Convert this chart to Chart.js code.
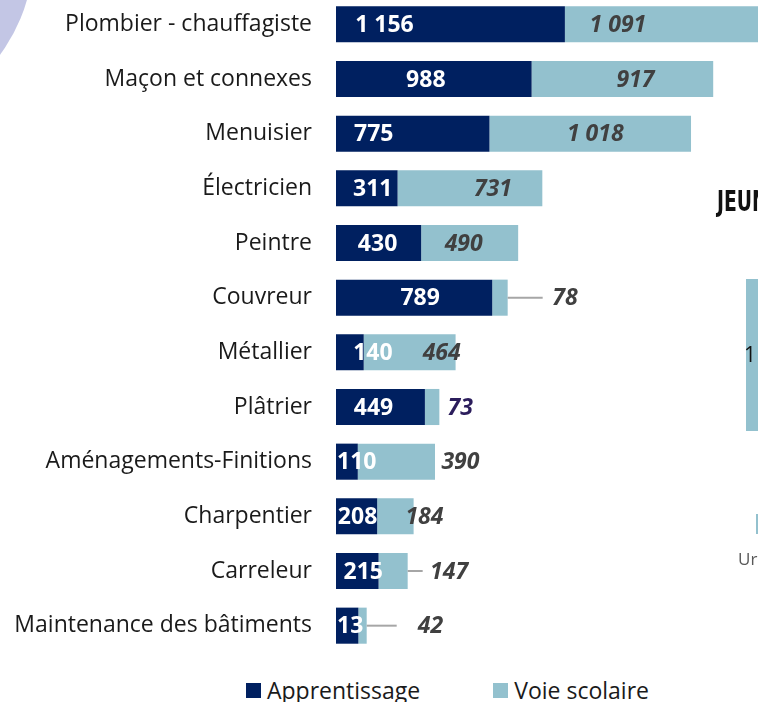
<!DOCTYPE html>
<html lang="fr">
<head>
<meta charset="utf-8">
<title>Apprentissage / Voie scolaire par métier</title>
<script src="https://cdn.jsdelivr.net/npm/chart.js@4.4.1/dist/chart.umd.min.js"></script>
<style>
  html, body { margin: 0; padding: 0; background: #fff; }
  body { width: 758px; height: 702px; overflow: hidden; position: relative; font-family: "Open Sans", sans-serif; }
  .blob { position: absolute; left: -298px; top: -210px; width: 331px; height: 331px; border-radius: 50%; background: #c3c6e5; }
  #chart-box { position: absolute; left: 0; top: -3px; width: 892px; height: 656px; }
  .legend { position: absolute; top: 674px; left: 246px; display: flex; align-items: center; font-size: 23px; color: #1a1a1a; }
  .legend .item { display: flex; align-items: center; }
  .legend .sw { width: 15px; height: 15px; margin-right: 6px; }
  .frag { position: absolute; }
  .jeun { left: 717px; top: 184px; font-family: "Liberation Sans Narrow", "DejaVu Sans Condensed", sans-serif; font-weight: bold; font-size: 29px; color: #111; transform: scaleX(0.72); transform-origin: left; }
</style>
</head>
<body>
<div class="blob"></div>
<div id="chart-box"><canvas id="metiers-chart"></canvas></div>

<div class="legend">
  <div class="item"><span class="sw" style="background:#002060"></span>Apprentissage</div>
  <div class="item" style="margin-left:73px"><span class="sw" style="background:#93c1ce"></span>Voie scolaire</div>
</div>

<!-- morceaux du graphique voisin -->
<div class="frag jeun">JEUN</div>
<div class="frag" style="left:746px; top:279px; width:12px; height:152px; background:#93c1ce;"></div>
<div class="frag" style="left:744px; top:340px; font-size:21px; color:#111;">1</div>
<div class="frag" style="left:756px; top:514px; width:2px; height:20px; background:#93c1ce;"></div>
<div class="frag" style="left:738px; top:547px; font-size:17px; color:#595959;">Ur</div>

<script>
const metiers = [
  "Plombier - chauffagiste",
  "Maçon et connexes",
  "Menuisier",
  "Électricien",
  "Peintre",
  "Couvreur",
  "Métallier",
  "Plâtrier",
  "Aménagements-Finitions",
  "Charpentier",
  "Carreleur",
  "Maintenance des bâtiments",
];
const apprentissage = [1156, 988, 775, 311, 430, 789, 140, 449, 110, 208, 215, 113];
const voieScolaire = [1091, 917, 1018, 731, 490, 78, 464, 73, 390, 184, 147, 42];
// textes des étiquettes tels qu'affichés
const apprLabels = ["1 156", "988", "775", "311", "430", "789", "140", "449", "110", "208", "215", "13"];
const scolLabels = ["1 091", "917", "1 018", "731", "490", "78", "464", "73", "390", "184", "147", "42"];

// réglages d'affichage des étiquettes (décalages en px, traits de rappel)
const apprShift = [-66, -8, -39, 6, -1, 6, 23, -7, 0, 1, 6, 0];
const scolShift = [-55, 13, 5, 23, -6, 65, 32, 28, 64, 29, 56, 68];
const leaderLen = [0, 0, 0, 0, 0, 35, 0, 0, 0, 0, 15, 30];

const DARK = "#002060";
const LIGHT = "#93c1ce";

const labelsPlugin = {
  id: "barLabels",
  afterDatasetsDraw(chart) {
    const ctx = chart.ctx;
    const area = chart.chartArea;
    const dark = chart.getDatasetMeta(0).data;
    const light = chart.getDatasetMeta(1).data;
    ctx.save();
    ctx.textBaseline = "middle";
    ctx.textAlign = "center";

    // traits de rappel
    light.forEach((bar, i) => {
      if (!leaderLen[i]) return;
      ctx.strokeStyle = "#a6a6a6";
      ctx.lineWidth = 2;
      ctx.beginPath();
      ctx.moveTo(bar.x, bar.y);
      ctx.lineTo(bar.x + leaderLen[i], bar.y);
      ctx.stroke();
    });

    // Voie scolaire
    ctx.font = "italic bold 23px 'Open Sans'";
    light.forEach((bar, i) => {
      const cx = (bar.base + bar.x) / 2 + scolShift[i];
      ctx.fillStyle = i === 7 ? "#2b1d5c" : "#404040";
      ctx.fillText(scolLabels[i], cx, bar.y + 1);
    });

    // Apprentissage
    ctx.font = "bold 23px 'Open Sans'";
    ctx.fillStyle = "#ffffff";
    dark.forEach((bar, i) => {
      const w = ctx.measureText(apprLabels[i]).width;
      let cx = (bar.base + bar.x) / 2 + apprShift[i];
      if (cx - w / 2 < area.left + 1) cx = area.left + 1 + w / 2;
      ctx.fillText(apprLabels[i], cx, bar.y + 1);
    });
    ctx.restore();
  },
};

const ctx = document.getElementById("metiers-chart").getContext("2d");
new Chart(ctx, {
  type: "bar",
  data: {
    labels: metiers,
    datasets: [
      { label: "Apprentissage", data: apprentissage, backgroundColor: DARK, borderWidth: 0 },
      { label: "Voie scolaire", data: voieScolaire, backgroundColor: LIGHT, borderWidth: 0 },
    ],
  },
  options: {
    indexAxis: "y",
    responsive: true,
    maintainAspectRatio: false,
    animation: false,
    layout: { padding: 0 },
    datasets: { bar: { categoryPercentage: 1, barPercentage: 0.66 } },
    plugins: {
      legend: { display: false },
      tooltip: { enabled: false },
    },
    scales: {
      x: { stacked: true, display: false, min: 0, max: 2808 },
      y: {
        stacked: true,
        grid: { display: false, drawTicks: false },
        border: { display: false },
        ticks: { color: "#1a1a1a", font: { family: "'Open Sans'", size: 23 }, padding: 24, autoSkip: false },
        afterFit(scale) {
          scale.width = 336;
          scale.paddingTop = 0;
          scale.paddingBottom = 0;
        },
      },
    },
  },
  plugins: [labelsPlugin],
});
</script>
</body>
</html>
